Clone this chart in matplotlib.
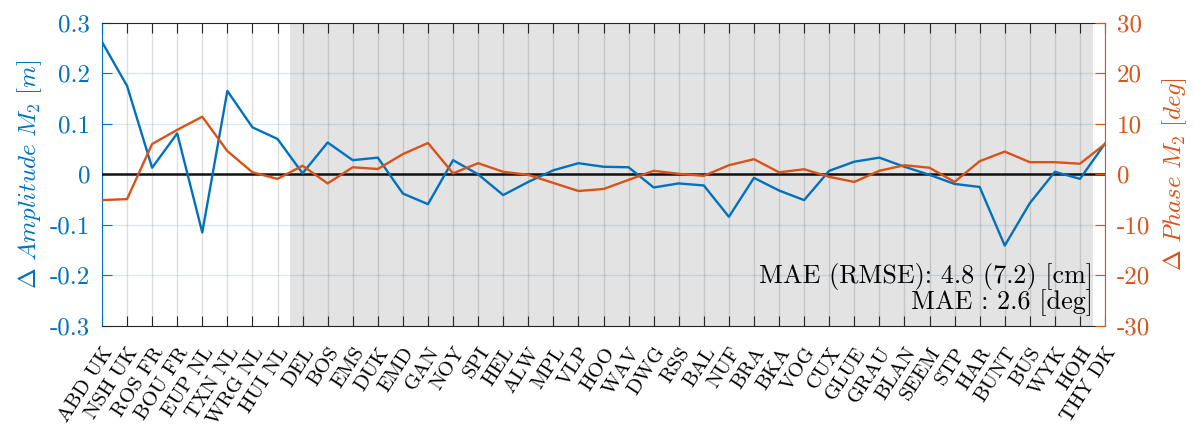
import numpy as np
import matplotlib
matplotlib.use("Agg")
import matplotlib.pyplot as plt
from matplotlib.transforms import ScaledTranslation

# station names along the x axis
stations = ["ABD UK", "NSH UK", "ROS FR", "BOU FR", "EUP NL", "TXN NL", "WRG NL",
            "HUI NL", "DEL", "BOS", "EMS", "DUK", "EMD", "GAN", "NOY", "SPI", "HEL",
            "ALW", "MPL", "VLP", "HOO", "WAV", "DWG", "RSS", "BAL", "NUF", "BRA",
            "BKA", "VOG", "CUX", "GLUE", "GRAU", "BLAN", "SEEM", "STP", "HAR",
            "BUNT", "BUS", "WYK", "HOH", "THY DK"]

# amplitude difference M2 [m]
d_amp = [0.262, 0.175, 0.013, 0.081, -0.115, 0.165, 0.093, 0.070, 0.002, 0.063,
         0.028, 0.033, -0.038, -0.059, 0.028, 0.000, -0.041, -0.015, 0.008, 0.022,
         0.015, 0.014, -0.026, -0.018, -0.022, -0.084, -0.007, -0.032, -0.051,
         0.007, 0.025, 0.033, 0.015, -0.001, -0.019, -0.025, -0.141, -0.057,
         0.005, -0.009, 0.061]

# phase difference M2 [deg]
d_pha = [-5.1, -4.9, 6.0, 8.8, 11.4, 4.6, 0.4, -0.9, 1.7, -1.8, 1.4, 1.05, 4.0,
         6.2, 0.2, 2.2, 0.5, -0.1, -1.7, -3.3, -2.9, -1.1, 0.7, 0.1, -0.3, 1.8,
         3.0, 0.4, 1.0, -0.5, -1.5, 0.7, 1.8, 1.3, -1.5, 2.6, 4.5, 2.4, 2.4, 2.1,
         6.0]

amp_ticks = [-0.3, -0.2, -0.1, 0, 0.1, 0.2, 0.3]
pha_ticks = [-30, -20, -10, 0, 10, 20, 30]

blue = "#0072BD"
orange = "#D95319"

plt.rcParams["font.family"] = "serif"
plt.rcParams["font.serif"] = ["cmr10"]
plt.rcParams["mathtext.fontset"] = "cm"
plt.rcParams["axes.unicode_minus"] = False
plt.rcParams["axes.formatter.use_mathtext"] = False

fig = plt.figure(figsize=(11.94, 4.32), dpi=100)
ax = fig.add_axes([0.0854, 0.2454, 0.9255 - 0.0854, 0.9475 - 0.2454])
x = np.arange(len(stations))

# German Bight stations shaded
ax.axvspan(7.5, 39.5, color="#e3e3e3", zorder=0, lw=0)
for xi in x:
    ax.axvline(xi, color="black", alpha=0.13, lw=1.0, zorder=1)
for yv in amp_ticks[1:-1]:
    ax.axhline(yv, color="#0a4a80", alpha=0.13, lw=1.0, zorder=1)
ax.axhline(0, color="#111111", lw=1.8, zorder=3)

ax.plot(x, d_amp, color=blue, lw=1.7, zorder=4)
ax.set_xlim(0, len(stations) - 1)
ax.set_ylim(-0.3, 0.3)
ax.set_yticks(amp_ticks)
ax.set_yticklabels([f"{v:.1f}" if v != 0 else "0" for v in amp_ticks])
ax.set_xticks(x)
ax.set_xticklabels(stations, rotation=57, ha="right", va="top",
                   rotation_mode="anchor", fontsize=15)
shift = ScaledTranslation(0.13, 0, fig.dpi_scale_trans)
for lab in ax.get_xticklabels():
    lab.set_transform(lab.get_transform() + shift)
ax.tick_params(axis="x", direction="in", length=7, top=True, color="#262626", pad=13)
ax.tick_params(axis="y", direction="in", length=7, colors=blue, labelsize=18, pad=8.5)
ax.set_ylabel(r"$\Delta\ Amplitude\ M_2\ [m]$", color=blue, fontsize=18, labelpad=4)
for s in ["top", "bottom"]:
    ax.spines[s].set_color("#262626")
ax.spines["left"].set_color(blue)
ax.spines["right"].set_visible(False)

ax2 = ax.twinx()
ax2.plot(x, d_pha, color=orange, lw=1.7, zorder=4)
ax2.set_ylim(-30, 30)
ax2.set_yticks(pha_ticks)
ax2.set_yticklabels([str(v) for v in pha_ticks])
ax2.tick_params(axis="y", direction="in", length=7, colors=orange, labelsize=18, pad=8.5)
ax2.set_ylabel(r"$\Delta\ Phase\ M_2\ [deg]$", color=orange, fontsize=18, labelpad=7)
ax2.spines["right"].set_color(orange)
ax2.spines["left"].set_visible(False)
ax2.spines["top"].set_visible(False)
ax2.spines["bottom"].set_visible(False)

ax.text(39.5, -0.2142, "MAE (RMSE): 4.8 (7.2) [cm]", ha="right", va="baseline",
        fontsize=18.8, zorder=5)
ax.text(39.5, -0.2668, "MAE : 2.6 [deg]", ha="right", va="baseline",
        fontsize=18.8, zorder=5)

fig.savefig("out.png", dpi=100)
